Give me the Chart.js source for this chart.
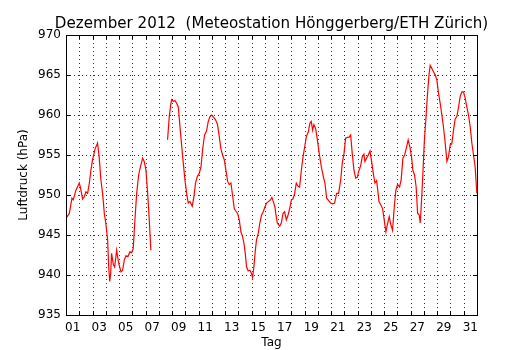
<!DOCTYPE html>
<html>
<head>
<meta charset="utf-8">
<script src="https://cdn.jsdelivr.net/npm/chart.js@4"></script>
<style>
html,body{margin:0;padding:0;background:#fff;}
#wrap{width:530px;height:350px;}
</style>
</head>
<body>
<div id="wrap"><canvas id="c" width="530" height="350"></canvas></div>
<script>
// Time in days since 1 Dec 2012 00:00 (null pressure = data gap)
const days = [
 0.00,0.25,0.45,0.55,0.75,1.00,1.08,1.25,1.38,1.50,1.63,1.76,1.88,2.00,2.20,2.38,2.50,2.63,2.76,2.89,
 3.00,3.14,3.22,3.30,3.37,3.44,3.57,3.67,3.82,3.97,4.15,4.27,4.40,4.52,4.67,4.82,4.95,5.07,5.20,5.33,
 5.48,5.58,5.78,5.90,6.03,6.16,6.28,6.40,
 7.00,
 7.66,7.79,7.90,7.97,8.09,8.22,8.34,8.47,8.64,8.80,8.97,9.10,9.22,9.35,9.52,9.65,9.77,9.90,10.05,10.18,
 10.30,10.45,10.60,10.73,10.86,10.98,11.10,11.28,11.43,11.56,11.68,11.81,11.94,12.06,12.19,12.31,12.44,12.56,12.69,12.81,
 12.94,13.07,13.19,13.32,13.42,13.52,13.62,13.74,13.87,13.99,14.07,14.17,14.27,14.37,14.50,14.62,14.75,14.88,15.00,15.13,
 15.28,15.43,15.53,15.63,15.76,15.82,15.94,16.12,16.24,16.37,16.49,16.62,16.75,16.87,17.00,17.12,17.25,17.37,17.50,17.62,
 17.75,17.88,18.00,18.13,18.28,18.40,18.50,18.60,18.70,18.83,18.96,19.10,19.26,19.41,19.53,19.66,19.81,19.96,20.11,20.26,
 20.41,20.56,20.72,20.84,20.97,21.09,21.22,21.34,21.47,21.59,21.72,21.85,21.97,22.10,22.22,22.35,22.47,22.55,22.67,22.80,
 22.93,23.05,23.18,23.30,23.43,23.53,23.60,23.70,23.88,24.00,24.13,24.25,24.38,24.50,24.63,24.76,24.88,25.01,25.16,25.28,
 25.41,25.54,25.66,25.81,25.94,26.06,26.16,26.29,26.41,26.52,26.64,26.72,26.82,26.92,27.02,27.14,27.27,27.39,27.47,27.60,
 27.72,27.85,27.97,28.10,28.22,28.35,28.47,28.60,28.73,28.85,28.98,29.10,29.23,29.35,29.48,29.61,29.73,29.86,29.98,30.11,
 30.23,30.36,30.49,30.61,30.74,30.86,30.99
];
const pressure = [
 947.1,947.7,949.6,949.4,950.6,951.5,951.0,949.5,949.8,950.4,950.2,951.5,953.1,954.4,955.8,956.5,954.8,951.9,950.2,947.7,
 946.5,944.4,941.0,939.2,940.2,942.7,941.3,941.0,943.1,941.5,940.4,940.6,941.9,942.4,942.3,942.9,942.8,943.3,946.9,950.2,
 952.5,953.3,954.6,954.2,953.1,950.2,946.9,943.1,
 null,
 956.9,959.8,961.3,961.9,961.7,961.8,961.5,961.0,957.7,954.8,951.9,950.2,949.0,949.2,948.6,949.8,951.5,952.3,952.7,953.5,
 955.6,957.5,958.0,959.2,959.8,960.0,959.8,959.4,958.8,957.3,955.8,955.0,954.4,953.1,951.7,951.3,951.5,950.0,948.3,948.0,
 947.7,946.9,945.4,944.8,944.0,942.7,941.0,940.5,940.6,940.2,939.7,941.0,942.9,944.4,945.2,946.5,947.5,947.9,948.5,949.0,
 949.2,949.4,949.7,949.2,948.5,947.7,946.5,946.1,946.5,947.7,947.9,946.9,947.5,948.3,949.4,949.5,950.2,951.5,951.1,951.0,
 953.1,954.8,956.0,957.3,957.9,959.0,959.2,958.1,958.8,958.3,956.9,955.2,953.5,952.3,951.5,949.6,949.3,949.0,948.9,949.0,
 950.2,950.2,951.9,954.0,955.2,957.1,957.2,957.2,957.5,955.2,953.1,952.1,952.2,953.1,953.6,954.8,955.1,954.2,954.6,955.0,
 955.5,954.2,952.7,951.5,951.8,950.4,949.2,948.9,948.3,946.9,945.4,946.4,947.3,946.3,945.6,948.5,950.6,951.3,951.0,951.9,
 954.6,955.0,955.8,956.9,956.0,954.8,953.1,952.5,951.0,947.7,947.5,946.5,949.4,952.7,956.5,959.4,962.7,965.2,966.2,965.8,
 965.4,965.0,964.4,962.7,961.5,960.0,958.5,956.5,954.2,954.8,956.3,956.4,958.1,959.5,959.8,961.0,962.3,962.9,962.9,962.1,
 961.0,960.0,958.5,956.5,955.0,953.5,950.2
];
const xLabelPositions = [0.5,2.5,4.5,6.5,8.5,10.5,12.5,14.5,16.5,18.5,20.5,22.5,24.5,26.5,28.5,30.5];
const xLabels = ['01','03','05','07','09','11','13','15','17','19','21','23','25','27','29','31'];
const yTicks = [935,940,945,950,955,960,965,970];
const titleText = 'Dezember 2012  (Meteostation Hönggerberg/ETH Zürich)';

const points = days.map((d,i)=>({x:d,y:pressure[i]}));
const FONT = 'DejaVu Sans';

const framePlugin = {
  id:'frame',
  beforeDatasetsDraw(chart){
    const {ctx, chartArea:a, scales:{x,y}} = chart;
    ctx.save();
    ctx.strokeStyle='rgba(0,0,0,0.8)';
    ctx.lineWidth=1;
    ctx.setLineDash([1,3]);
    for(let d=1; d<31; d++){
      const px=Math.round(x.getPixelForValue(d))+0.5;
      ctx.beginPath(); ctx.moveTo(px,a.top); ctx.lineTo(px,a.bottom); ctx.stroke();
    }
    for(const v of yTicks){
      if(v===yTicks[0]||v===yTicks[yTicks.length-1]) continue;
      const py=Math.round(y.getPixelForValue(v))+0.5;
      ctx.beginPath(); ctx.moveTo(a.left,py); ctx.lineTo(a.right,py); ctx.stroke();
    }
    ctx.restore();
  },
  afterDatasetsDraw(chart){
    const {ctx, chartArea:a, scales:{x,y}} = chart;
    ctx.save();
    ctx.strokeStyle='#000';
    ctx.lineWidth=1;
    ctx.setLineDash([]);
    const L=4;
    for(let d=1; d<31; d++){
      const px=Math.round(x.getPixelForValue(d))+0.5;
      ctx.beginPath();
      ctx.moveTo(px,a.bottom); ctx.lineTo(px,a.bottom-L);
      ctx.moveTo(px,a.top); ctx.lineTo(px,a.top+L);
      ctx.stroke();
    }
    for(const v of yTicks){
      const py=Math.round(y.getPixelForValue(v))+0.5;
      ctx.beginPath();
      ctx.moveTo(a.left,py); ctx.lineTo(a.left+L,py);
      ctx.moveTo(a.right,py); ctx.lineTo(a.right-L,py);
      ctx.stroke();
    }
    ctx.strokeRect(Math.round(a.left)+0.5, Math.round(a.top)+0.5, Math.round(a.right-a.left), Math.round(a.bottom-a.top));
    // title centred over the plot area
    ctx.fillStyle='#000';
    ctx.font='15.1px "'+FONT+'"';
    ctx.textAlign='center';
    ctx.textBaseline='alphabetic';
    ctx.fillText(titleText,(a.left+a.right)/2,28);
    ctx.restore();
  }
};

new Chart(document.getElementById('c'), {
  type:'line',
  data:{datasets:[{
    data:points,
    borderColor:'#ff0000',
    borderWidth:1.2,
    pointRadius:0,
    tension:0,
    spanGaps:false,
    fill:false
  }]},
  options:{
    responsive:false,
    animation:false,
    devicePixelRatio:1,
    layout:{padding:{left:0,right:53,top:35,bottom:0}},
    plugins:{
      legend:{display:false},
      tooltip:{enabled:false},
      title:{display:false}
    },
    scales:{
      x:{
        type:'linear',min:0,max:31,
        grid:{display:false,drawTicks:false},
        border:{display:false},
        afterBuildTicks(s){ s.ticks = xLabelPositions.map(v=>({value:v})); },
        afterFit(s){ s.height=35; },
        ticks:{
          autoSkip:false,maxRotation:0,minRotation:0,padding:6,
          color:'#000',font:{family:FONT,size:12},
          callback(v){ const i=xLabelPositions.indexOf(v); return i>=0?xLabels[i]:''; }
        },
        title:{display:true,text:'Tag',color:'#000',font:{family:FONT,size:12},padding:{top:0,bottom:0}}
      },
      y:{
        type:'linear',min:935,max:970,
        grid:{display:false,drawTicks:false},
        border:{display:false},
        afterBuildTicks(s){ s.ticks = yTicks.map(v=>({value:v})); },
        afterFit(s){ s.width=66; },
        ticks:{padding:5,color:'#000',font:{family:FONT,size:12},callback(v){return String(v);}},
        title:{display:true,text:'Luftdruck (hPa)',color:'#000',font:{family:FONT,size:12},padding:{top:17,bottom:0}}
      }
    }
  },
  plugins:[framePlugin]
});
</script>
</body>
</html>
